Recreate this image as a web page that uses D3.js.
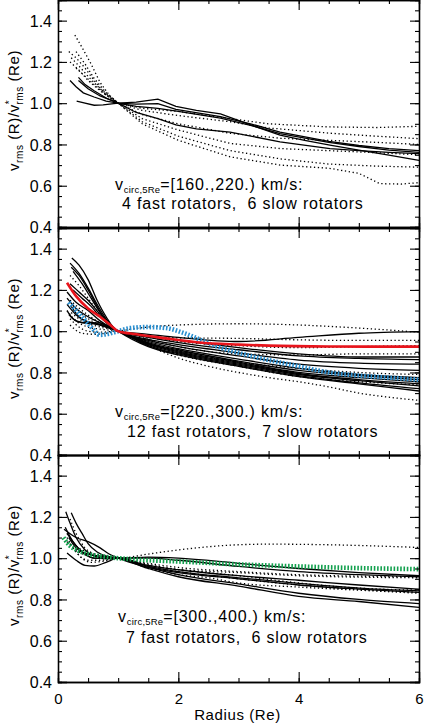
<!DOCTYPE html>
<html>
<head>
<meta charset="utf-8">
<script src="https://cdn.jsdelivr.net/npm/d3@7/dist/d3.min.js"></script>
<style>
  html, body { margin: 0; padding: 0; background: #fff; }
  svg { display: block; }
  text { font-family: "Liberation Sans", Arial, sans-serif; fill: #000; }
</style>
</head>
<body>
<script>
// ---- axis ticks -------------------------------------------------------
const radiusTicks = [0, 2, 4, 6];
const radiusMinor = d3.range(0, 6.001, 0.5);
const ratioTicks = [0.4, 0.6, 0.8, 1.0, 1.2, 1.4];
const ratioMinor = d3.range(0.4, 1.5001, 0.05);

// ---- bin labels -------------------------------------------------------
const binRanges = ["=[160.,220.) km/s:", "=[220.,300.) km/s:", "=[300.,400.) km/s:"];
const binCounts = ["4 fast rotators,  6 slow rotators",
                   "12 fast rotators,  7 slow rotators",
                   "7 fast rotators,  6 slow rotators"];

// ---- profiles: [radius (Re), v_rms(R)/v*_rms(Re)] ---------------------
// bin 1: 160-220 km/s
const fast1 = [
  [[0.31,1.01],[0.45,1.0],[0.6,0.99],[0.75,0.992],[1.0,1.0],[1.3,1.005],[1.66,1.02],[1.96,0.985],[2.3,0.965],[2.7,0.948],[3.27,0.888],[3.69,0.845],[4.1,0.82],[4.52,0.797],[5.0,0.773],[5.5,0.748],[6.0,0.723]],
  [[0.2,1.11],[0.3,1.08],[0.42,1.05],[0.6,1.03],[0.8,1.01],[1.0,1.0],[1.3,0.995],[1.66,0.998],[1.96,0.97],[2.7,0.935],[3.2,0.9],[3.69,0.86],[4.5,0.815],[5.0,0.795],[5.5,0.78],[6.0,0.77]],
  [[0.34,1.125],[0.45,1.09],[0.6,1.06],[0.8,1.025],[1.0,1.0],[1.3,0.985],[1.66,0.975],[2.0,0.96],[2.7,0.928],[3.2,0.893],[3.69,0.852],[4.5,0.81],[5.0,0.79],[5.5,0.773],[6.0,0.762]],
  [[0.34,1.11],[0.5,1.07],[0.7,1.035],[1.0,1.0],[1.3,0.955],[1.66,0.925],[1.96,0.895],[2.3,0.875],[2.86,0.86],[3.69,0.813],[4.52,0.78],[5.0,0.77],[5.5,0.762],[6.0,0.756]]
];
const slow1 = [
  [[0.28,1.33],[0.4,1.27],[0.55,1.19],[0.7,1.1],[0.85,1.04],[1.0,1.0],[1.4,0.965],[2.0,0.94],[2.86,0.91],[3.5,0.88],[4.5,0.855],[5.3,0.84],[6.0,0.828]],
  [[0.18,1.25],[0.3,1.22],[0.45,1.17],[0.6,1.11],[0.8,1.04],[1.0,1.0],[1.4,0.975],[2.0,0.96],[2.86,0.925],[3.5,0.9],[4.5,0.885],[5.3,0.882],[6.0,0.888]],
  [[0.3,1.25],[0.45,1.19],[0.6,1.12],[0.8,1.05],[1.0,1.0],[1.4,0.945],[2.0,0.9],[2.86,0.854],[3.7,0.83],[4.5,0.82],[5.3,0.81],[6.0,0.8]],
  [[0.22,1.22],[0.35,1.18],[0.5,1.13],[0.7,1.07],[1.0,1.0],[1.4,0.925],[2.0,0.87],[2.86,0.805],[3.7,0.78],[4.5,0.77],[5.3,0.76],[6.0,0.75]],
  [[0.2,1.2],[0.35,1.16],[0.5,1.11],[0.7,1.06],[1.0,1.0],[1.4,0.91],[2.0,0.84],[2.86,0.77],[3.7,0.73],[4.5,0.705],[5.3,0.695],[6.0,0.69]],
  [[0.3,1.17],[0.45,1.13],[0.6,1.09],[0.8,1.04],[1.0,1.0],[1.4,0.9],[2.0,0.82],[2.86,0.74],[3.7,0.7],[4.5,0.685],[5.0,0.66],[5.35,0.61],[5.7,0.608],[6.0,0.615]]
];

// bin 2: 220-300 km/s
const fast2 = [
  [[0.23,1.355],[0.35,1.32],[0.5,1.25],[0.65,1.15],[0.8,1.07],[1,1],[1.5,0.985],[2,0.97],[3,0.95],[4,0.97],[5,0.99],[6,0.998]],
  [[0.2,1.33],[0.35,1.28],[0.5,1.21],[0.65,1.13],[0.8,1.06],[1,1],[1.5,0.975],[2,0.955],[3,0.92],[4,0.89],[5,0.875],[6,0.875]],
  [[0.22,1.31],[0.35,1.27],[0.5,1.2],[0.65,1.12],[0.8,1.05],[1,1],[1.5,0.97],[2,0.945],[3,0.91],[4,0.88],[5,0.868],[6,0.862]],
  [[0.25,1.29],[0.4,1.23],[0.55,1.16],[0.7,1.09],[0.85,1.04],[1,1],[1.5,0.96],[2,0.935],[3,0.895],[4,0.86],[5,0.845],[6,0.84]],
  [[0.2,1.23],[0.35,1.19],[0.5,1.15],[0.7,1.08],[0.85,1.03],[1,1],[1.5,0.955],[2,0.925],[3,0.88],[4,0.84],[5,0.82],[6,0.81]],
  [[0.15,1.19],[0.3,1.14],[0.5,1.1],[0.7,1.05],[1,1],[1.5,0.95],[2,0.915],[3,0.865],[4,0.82],[5,0.79],[6,0.775]],
  [[0.15,1.16],[0.3,1.11],[0.5,1.07],[0.7,1.04],[1,1],[1.5,0.945],[2,0.91],[3,0.855],[4,0.81],[5,0.785],[6,0.765]],
  [[0.15,1.13],[0.3,1.08],[0.45,1.05],[0.6,1.04],[0.8,1.025],[1,1],[1.5,0.94],[2,0.905],[3,0.85],[4,0.8],[5,0.775],[6,0.755]],
  [[0.15,1.1],[0.25,1.06],[0.4,1.04],[0.6,1.035],[0.8,1.02],[1,1],[1.5,0.94],[2,0.9],[3,0.845],[4,0.795],[5,0.765],[6,0.745]],
  [[0.18,1.08],[0.3,1.05],[0.5,1.04],[0.7,1.04],[0.85,1.02],[1,1],[1.5,0.935],[2,0.895],[3,0.84],[4,0.79],[5,0.76],[6,0.735]],
  [[0.22,1.12],[0.35,1.07],[0.5,1.045],[0.7,1.03],[1,1],[1.5,0.93],[2,0.89],[3,0.835],[4,0.785],[5,0.75],[6,0.722]],
  [[0.25,1.2],[0.4,1.16],[0.55,1.12],[0.7,1.07],[0.85,1.03],[1,1],[1.5,0.925],[2,0.885],[3,0.83],[4,0.78],[5,0.745],[6,0.71]]
];
const slow2 = [
  [[0.2,1.03],[0.4,0.99],[0.6,0.985],[0.8,0.99],[1,1],[1.5,1.02],[2,1.03],[3,1.036],[4,1.03],[5,1.015],[6,0.995]],
  [[0.2,1.27],[0.35,1.22],[0.5,1.16],[0.7,1.08],[1,1],[1.5,0.975],[2,0.968],[3,0.965],[4,0.958],[5,0.955],[6,0.955]],
  [[0.15,1.1],[0.3,1.05],[0.5,1.02],[0.7,1.01],[1,1],[1.5,0.97],[2,0.95],[3,0.93],[4,0.92],[5,0.925],[6,0.93]],
  [[0.2,1.06],[0.35,1.02],[0.5,1.0],[0.7,0.995],[1,1],[1.5,0.96],[2,0.925],[3,0.89],[4,0.885],[5,0.89],[6,0.89]],
  [[0.25,1.12],[0.45,1.07],[0.7,1.03],[1,1],[1.5,0.94],[2,0.9],[3,0.85],[4,0.82],[5,0.8],[6,0.79]],
  [[0.2,1.15],[0.4,1.1],[0.7,1.04],[1,1],[1.5,0.93],[2,0.885],[3,0.83],[4,0.78],[5,0.755],[6,0.74]],
  [[0.22,1.09],[0.4,1.05],[0.7,1.02],[1,1],[1.5,0.93],[2,0.87],[2.5,0.83],[3,0.8],[3.5,0.775],[4,0.755],[4.5,0.73],[5,0.7],[5.5,0.68],[6,0.665]]
];
const meanFast2 = [[0.15,1.235],[0.3,1.17],[0.5,1.11],[0.7,1.07],[0.85,1.035],[1,1],[1.3,0.985],[1.8,0.965],[2.35,0.945],[3,0.935],[3.5,0.93],[4.5,0.926],[6,0.925]];
const meanAll2 = [[0.18,1.14],[0.3,1.1],[0.4,1.07],[0.55,1.02],[0.7,0.982],[0.8,0.985],[1,1],[1.2,1.015],[1.5,1.02],[1.8,1.015],[2.1,0.99],[2.6,0.93],[3.2,0.88],[4,0.83],[4.5,0.8],[5,0.785],[5.5,0.775],[6,0.765]];

// bin 3: 300-400 km/s
const fast3 = [
  [[0.13,1.225],[0.2,1.17],[0.3,1.1],[0.45,1.04],[0.6,1.01],[0.8,1.0],[1,1],[1.5,1.005],[2,1.0],[3,0.975],[4,0.95],[5,0.93],[6,0.915]],
  [[0.22,1.22],[0.3,1.17],[0.4,1.12],[0.5,1.07],[0.65,1.03],[0.8,1.01],[1,1],[1.5,0.965],[2,0.944],[3,0.915],[4,0.893],[5,0.87],[6,0.85]],
  [[0.1,1.14],[0.3,1.1],[0.5,1.08],[0.7,1.05],[0.85,1.02],[1,1],[1.5,0.955],[2,0.92],[3,0.875],[4,0.83],[5,0.8],[6,0.78]],
  [[0.15,1.025],[0.3,0.99],[0.45,0.965],[0.6,0.962],[0.8,0.98],[1,1],[1.5,1.0],[2,0.99],[3,0.96],[4,0.935],[5,0.92],[6,0.91]],
  [[0.12,1.15],[0.25,1.08],[0.4,1.03],[0.6,1.0],[0.8,0.998],[1,1],[1.5,0.96],[2,0.935],[3,0.905],[4,0.878],[5,0.855],[6,0.842]],
  [[0.15,1.12],[0.3,1.06],[0.45,1.02],[0.6,1.0],[0.8,0.998],[1,1],[1.5,0.955],[2,0.93],[3,0.9],[4,0.87],[5,0.85],[6,0.834]],
  [[0.18,1.1],[0.3,1.05],[0.5,1.02],[0.7,1.01],[1,1],[1.5,0.95],[2,0.91],[3,0.865],[4,0.815],[5,0.79],[6,0.762]]
];
const slow3 = [
  [[0.15,1.08],[0.3,1.04],[0.5,1.02],[0.7,1.01],[1,1],[1.5,1.02],[2,1.04],[3,1.065],[3.5,1.068],[4.5,1.065],[6,1.052]],
  [[0.2,1.19],[0.3,1.12],[0.45,1.05],[0.6,1.02],[0.8,1.005],[1,1],[1.5,0.975],[2,0.955],[3,0.935],[4,0.92],[5,0.913],[6,0.91]],
  [[0.15,1.12],[0.3,1.06],[0.5,1.03],[0.7,1.015],[1,1],[1.5,0.97],[2,0.945],[3,0.93],[4,0.915],[5,0.908],[6,0.905]],
  [[0.2,1.07],[0.35,1.03],[0.5,1.01],[0.7,1.0],[1,1],[1.5,0.965],[2,0.945],[3,0.915],[4,0.88],[5,0.855],[6,0.845]],
  [[0.25,1.05],[0.4,1.0],[0.55,0.98],[0.75,0.985],[1,1],[1.5,0.96],[2,0.935],[3,0.9],[4,0.87],[5,0.848],[6,0.835]],
  [[0.15,1.1],[0.3,1.03],[0.5,0.99],[0.7,0.99],[1,1],[1.5,0.95],[2,0.92],[2.5,0.905],[3,0.88],[4,0.86],[5,0.845],[6,0.83]]
];
const meanAll3 = [[0.09,1.1],[0.2,1.06],[0.31,1.04],[0.5,1.02],[0.7,1.01],[1,1],[1.5,0.99],[2,0.984],[3,0.97],[4,0.96],[5,0.952],[6,0.947]];

// ---- layout -----------------------------------------------------------
const W = 424, H = 728;
const left = 58, right = 419;
const panelTops = [0, 228, 455];
const panelH = 227;

const panels = [
  { fast: fast1, slow: slow1, extra: [], curve: d3.curveLinear },
  { fast: fast2, slow: slow2, extra: [
      { data: meanAll2, color: "#2a8fd0", dotted: true },
      { data: meanFast2, color: "#e8141c", dotted: false } ], curve: d3.curveMonotoneX },
  { fast: fast3, slow: slow3, extra: [
      { data: meanAll3, color: "#13a04e", dotted: true } ], curve: d3.curveMonotoneX }
];

const svg = d3.select("body").append("svg").attr("width", W).attr("height", H);
const x = d3.scaleLinear().domain([0, 6]).range([left, right]);

panels.forEach((p, i) => {
  const top = panelTops[i], bottom = top + panelH;
  const y = d3.scaleLinear().domain([0.4, 1.5]).range([bottom, top]);
  const g = svg.append("g");

  const clipId = "clip" + i;
  svg.append("clipPath").attr("id", clipId).append("rect")
    .attr("x", left).attr("y", top).attr("width", right - left).attr("height", panelH);

  const line = d3.line().x(d => x(d[0])).y(d => y(d[1])).curve(p.curve);
  const curves = g.append("g").attr("clip-path", `url(#${clipId})`).attr("fill", "none");

  curves.selectAll("path.slow").data(p.slow).join("path")
    .attr("class", "slow").attr("d", line)
    .attr("stroke", "#000").attr("stroke-width", 1.3)
    .attr("stroke-dasharray", "1.3,2.6");

  curves.selectAll("path.fast").data(p.fast).join("path")
    .attr("class", "fast").attr("d", line)
    .attr("stroke", "#000").attr("stroke-width", 1.3);

  p.extra.forEach(e => {
    curves.append("path").datum(e.data).attr("d", line)
      .attr("stroke", e.color)
      .attr("stroke-width", e.dotted ? 4.6 : 2.6)
      .attr("stroke-dasharray", e.dotted ? "1.6,1.7" : null);
  });

  // axes with inward ticks on all four sides
  const axisStyle = sel => {
    sel.select(".domain").attr("stroke", "#000").attr("stroke-width", 1.3);
    sel.selectAll(".tick line").attr("stroke", "#000").attr("stroke-width", 1.1);
  };

  const leftMaj = d3.axisLeft(y).tickValues(ratioTicks).tickSize(-9).tickPadding(6)
    .tickFormat(d3.format(".1f"));
  const leftMin = d3.axisLeft(y).tickValues(ratioMinor).tickSize(-4).tickFormat("");
  const rightMaj = d3.axisRight(y).tickValues(ratioTicks).tickSize(-9).tickFormat("");
  const rightMin = d3.axisRight(y).tickValues(ratioMinor).tickSize(-4).tickFormat("");
  const botMaj = d3.axisBottom(x).tickValues(radiusTicks).tickSize(-10).tickPadding(11)
    .tickFormat(i === 2 ? d3.format("d") : "");
  const botMin = d3.axisBottom(x).tickValues(radiusMinor).tickSize(-4).tickFormat("");
  const topMaj = d3.axisTop(x).tickValues(radiusTicks).tickSize(-10).tickFormat("");
  const topMin = d3.axisTop(x).tickValues(radiusMinor).tickSize(-4).tickFormat("");

  const gl = g.append("g").attr("transform", `translate(${left},0)`);
  gl.append("g").call(leftMin).call(axisStyle);
  gl.append("g").call(leftMaj).call(axisStyle)
    .selectAll("text").attr("font-size", 16).attr("font-family", "Liberation Sans, Arial, sans-serif")
    .attr("dy", "0.36em");
  const gr = g.append("g").attr("transform", `translate(${right},0)`);
  gr.append("g").call(rightMin).call(axisStyle);
  gr.append("g").call(rightMaj).call(axisStyle);
  const gb = g.append("g").attr("transform", `translate(0,${bottom})`);
  gb.append("g").call(botMin).call(axisStyle);
  gb.append("g").call(botMaj).call(axisStyle)
    .selectAll("text").attr("font-size", 15).attr("font-family", "Liberation Sans, Arial, sans-serif");
  const gt = g.append("g").attr("transform", `translate(0,${top})`);
  gt.append("g").call(topMin).call(axisStyle);
  gt.append("g").call(topMaj).call(axisStyle);

  // y-axis title
  const cy = (top + bottom) / 2 - 3;
  const yt = g.append("text")
    .attr("transform", `translate(19,${cy}) rotate(-90)`)
    .attr("text-anchor", "middle").attr("font-size", 15)
    .attr("letter-spacing", "0.6");
  yt.append("tspan").text("v");
  yt.append("tspan").attr("font-size", 10).attr("dy", 4).text("rms");
  yt.append("tspan").attr("dy", -4).text(" (R)/v");
  yt.append("tspan").attr("font-size", 10).attr("dy", -6).text("*");
  yt.append("tspan").attr("font-size", 10).attr("dx", -5).attr("dy", 10).text("rms");
  yt.append("tspan").attr("dy", -4).text(" (Re)");

  // velocity bin annotation
  const lines = [[115, 190, 122, 208.5], [115, 417, 127, 437], [118, 622, 126, 642.5]][i];
  const t1 = g.append("text").attr("x", lines[0]).attr("y", lines[1])
    .attr("font-size", 16).attr("letter-spacing", "0.8");
  t1.append("tspan").text("v");
  t1.append("tspan").attr("font-size", 9.5).attr("dy", 2.5).attr("letter-spacing", "0.2").text("circ,5Re");
  t1.append("tspan").attr("dy", -2.5).text(binRanges[i]);
  g.append("text").attr("x", lines[2]).attr("y", lines[3])
    .attr("font-size", 16).attr("letter-spacing", "0.8")
    .style("white-space", "pre").text(binCounts[i]);
});

svg.append("text").attr("x", x(3) - 1).attr("y", 720)
  .attr("text-anchor", "middle").attr("font-size", 15).attr("letter-spacing", "0.6")
  .text("Radius (Re)");
</script>
</body>
</html>
